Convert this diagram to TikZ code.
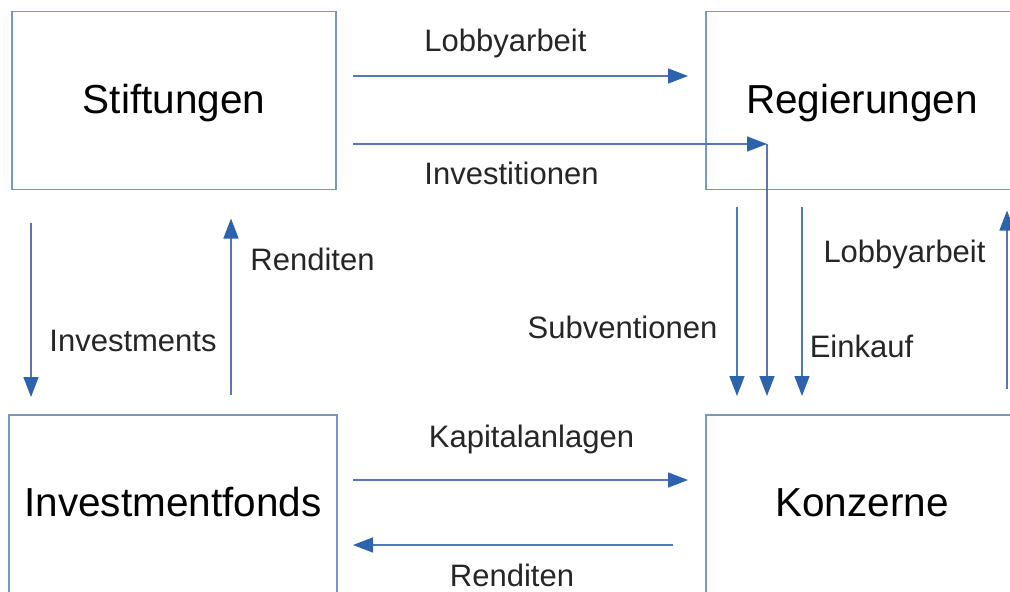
\documentclass[tikz,border=0pt]{standalone}
\usepackage{fontspec}
\setmainfont{Liberation Sans}
\usetikzlibrary{arrows.meta}
\definecolor{boxline}{RGB}{120,150,198}
\definecolor{arrline}{RGB}{82,121,182}
\definecolor{arrhead}{RGB}{45,98,172}
\tikzset{
  boxnode/.style={draw=boxline, line width=1.4pt, rectangle, inner sep=0pt, outer sep=0pt,
    font=\fontsize{40.5}{44}\selectfont, text height=33pt, text depth=8pt},
  arr/.style={draw=arrline, line width=1.5pt,
    -{Triangle[length=20pt,width=15pt,color=arrhead]}},
  lbl/.style={anchor=base, inner sep=0pt, font=\fontsize{31}{34}\selectfont, text=black!85}
}
\begin{document}
\begin{tikzpicture}[x=1pt,y=-1pt]
\useasboundingbox (0,0) rectangle (1010,592);
\clip (0,0) rectangle (1010,592);
\fill[white] (0,0) rectangle (1010,592);
% boxes
\node[boxnode, minimum width=324pt, minimum height=178pt] (stift) at (174,100.5) {Stiftungen};
\node[boxnode, minimum width=312pt, minimum height=178pt] (reg) at (862,100.5) {Regierungen};
\node[boxnode, minimum width=328pt, minimum height=178pt] (inv) at (173,504) {Investmentfonds};
\node[boxnode, minimum width=312pt, minimum height=178pt] (konz) at (862,504) {Konzerne};
% corner of Investitionen arrow
\coordinate (corner) at ([shift={(-95,-271)}]konz.north);
% arrows
\draw[arr] ([shift={(17,-24.5)}]stift.east) -- ([shift={(-18,-24.5)}]reg.west);
\draw[arr] ([shift={(17,43.5)}]stift.east) -- (corner);
\draw[arr] (corner) -- ([shift={(-95,-19)}]konz.north);
\draw[arr] ([shift={(-125,17)}]reg.south) -- ([shift={(-125,-19)}]konz.north);
\draw[arr] ([shift={(-60,17)}]reg.south) -- ([shift={(-60,-19)}]konz.north);
\draw[arr] ([shift={(145,-26)}]konz.north) -- ([shift={(145,21)}]reg.south);
\draw[arr] ([shift={(-143,33)}]stift.south) -- ([shift={(-142,-18)}]inv.north);
\draw[arr] ([shift={(58,-20)}]inv.north) -- ([shift={(57,29)}]stift.south);
\draw[arr] ([shift={(16,-24)}]inv.east) -- ([shift={(-18,-24)}]konz.west);
\draw[arr] ([shift={(-33,41)}]konz.west) -- ([shift={(16,41)}]inv.east);
% labels
\node[lbl] (l1) at (505.5,51) {Lobbyarbeit};
\node[lbl] (l2) at (511.5,184) {Investitionen};
\node[lbl] (l3) at (312.5,270) {Renditen};
\node[lbl] (l4) at (133,351) {Investments};
\node[lbl] (l5) at (531.5,447) {Kapitalanlagen};
\node[lbl, text depth=0pt] (l6) at (512,586) {Renditen};
\node[lbl] (l7) at (622.5,338) {Subventionen};
\node[lbl] (l8) at (861.5,357) {Einkauf};
\node[lbl] (l9) at (904.5,262) {Lobbyarbeit};
\end{tikzpicture}
\end{document}
